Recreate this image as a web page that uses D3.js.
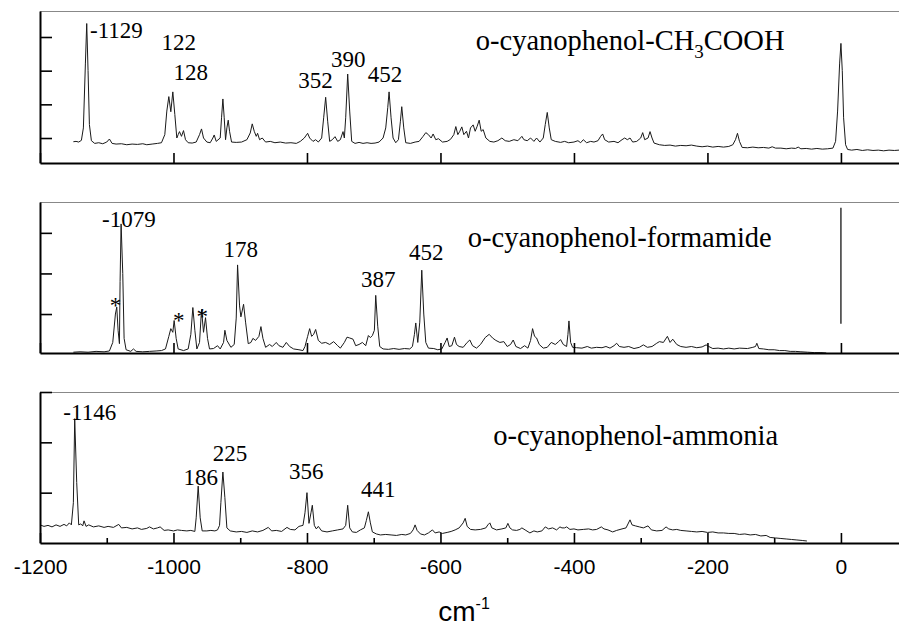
<!DOCTYPE html>
<html>
<head>
<meta charset="utf-8">
<script src="https://cdn.jsdelivr.net/npm/d3@7"></script>
<style>
body { margin: 0; background: #fff; }
</style>
</head>
<body>
<div id="chart"></div>
<script>
var fw = 899;
var fh = 626;
var serif = "'Liberation Serif', 'Times New Roman', serif";
var sans = "'Liberation Sans', Arial, sans-serif";

// x ticks (cm-1)
var xMajor = [-1200, -1000, -800, -600, -400, -200, 0];
var xMinor = [-1100, -900, -700, -500, -300, -100];

// y ticks per panel (arbitrary intensity)
var yTicks1 = [1, 2, 3, 4];
var yTicks2 = [1, 2, 3];
var yTicks3 = [1, 2, 3];

// o-cyanophenol-CH3COOH  [shift, intensity]
var specAcid = [[-1150,0.89],[-1146,0.90],[-1142,0.88],[-1138,0.93],[-1135,1.3],[-1132,3.2],[-1130,4.40],[-1128,3.0],[-1126,1.4],[-1123,0.92],[-1118,0.84],[-1112,0.86],[-1106,0.83],[-1100,0.88],[-1096,0.97],[-1092,0.84],[-1086,0.82],[-1078,0.83],[-1070,0.80],[-1062,0.82],[-1054,0.81],[-1046,0.83],[-1040,0.80],[-1032,0.82],[-1024,0.84],[-1018,0.86],[-1013,1.1],[-1010,1.8],[-1007,2.23],[-1004,1.78],[-1001,2.37],[-998,1.7],[-995,1.0],[-993,1.1],[-991,1.19],[-988,1.05],[-985,1.22],[-982,0.95],[-978,0.86],[-972,0.85],[-966,0.88],[-961,1.1],[-958,1.27],[-955,1.0],[-950,0.88],[-945,0.86],[-941,1.0],[-939,1.09],[-936,0.9],[-930,1.0],[-928,1.6],[-926,2.16],[-924,1.6],[-922,0.95],[-920,1.3],[-918,1.53],[-916,1.2],[-913,0.88],[-906,0.87],[-898,0.88],[-890,0.95],[-885,1.15],[-882,1.42],[-879,1.2],[-876,1.05],[-874,1.14],[-871,0.95],[-867,1.0],[-862,0.88],[-855,0.9],[-848,0.86],[-840,0.88],[-832,0.85],[-824,0.86],[-816,0.84],[-810,0.90],[-804,1.0],[-799,1.14],[-796,1.0],[-791,0.90],[-787,0.95],[-783,0.88],[-778,1.0],[-775,1.6],[-772,2.21],[-769,1.5],[-766,0.90],[-762,0.95],[-758,1.04],[-754,0.90],[-750,0.95],[-746,1.19],[-744,1.0],[-742,1.6],[-739,2.90],[-736,1.8],[-733,0.90],[-728,0.84],[-722,0.87],[-716,0.84],[-710,0.86],[-704,0.84],[-698,0.85],[-692,0.88],[-686,1.0],[-682,1.3],[-679,1.9],[-677,2.37],[-674,1.6],[-671,1.0],[-667,0.86],[-663,0.95],[-660,1.5],[-658,1.93],[-655,1.3],[-652,0.86],[-645,0.84],[-638,0.88],[-632,0.90],[-626,1.05],[-622,1.16],[-618,1.1],[-614,1.0],[-611,1.12],[-607,0.95],[-603,0.98],[-597,0.88],[-590,0.90],[-585,0.96],[-580,1.1],[-577,1.34],[-574,1.1],[-571,1.2],[-568,1.33],[-565,1.1],[-561,1.2],[-558,1.0],[-555,1.3],[-551,1.39],[-548,1.2],[-545,1.35],[-542,1.53],[-539,1.2],[-536,1.25],[-532,1.0],[-526,0.90],[-520,0.88],[-514,0.92],[-508,1.0],[-503,0.92],[-497,0.90],[-490,0.95],[-484,0.92],[-478,1.05],[-475,0.95],[-470,0.92],[-465,1.0],[-460,0.90],[-456,1.0],[-451,0.88],[-446,1.0],[-443,1.4],[-440,1.76],[-437,1.3],[-434,0.95],[-428,0.90],[-420,0.87],[-414,0.90],[-408,0.86],[-400,0.88],[-394,0.92],[-390,0.86],[-386,0.95],[-381,0.86],[-375,0.90],[-370,0.88],[-364,0.92],[-360,1.05],[-357,1.12],[-354,0.95],[-348,0.88],[-340,0.90],[-334,0.86],[-328,0.95],[-324,1.0],[-320,0.95],[-316,1.0],[-312,0.88],[-306,0.90],[-300,1.0],[-297,1.16],[-294,0.95],[-289,1.0],[-286,1.19],[-283,1.0],[-280,0.85],[-272,0.80],[-264,0.78],[-256,0.79],[-248,0.76],[-240,0.78],[-232,0.77],[-224,0.79],[-216,0.76],[-208,0.74],[-200,0.76],[-192,0.73],[-184,0.75],[-176,0.73],[-168,0.75],[-162,0.80],[-158,0.95],[-155,1.14],[-152,0.90],[-148,0.72],[-140,0.71],[-132,0.73],[-124,0.71],[-116,0.72],[-108,0.70],[-103,0.74],[-98,0.70],[-90,0.70],[-82,0.68],[-74,0.70],[-68,0.69],[-64,0.73],[-60,0.68],[-52,0.69],[-44,0.67],[-36,0.69],[-28,0.67],[-20,0.68],[-12,0.70],[-8,0.9],[-5,1.8],[-2,3.2],[0,3.81],[2,3.0],[4,1.6],[7,0.8],[10,0.66],[16,0.64],[24,0.66],[32,0.63],[40,0.65],[48,0.63],[56,0.64],[64,0.62],[72,0.64],[80,0.63],[87,0.64]];

// o-cyanophenol-formamide
var specForm = [[-1150,0.06],[-1140,0.07],[-1128,0.06],[-1116,0.08],[-1104,0.07],[-1096,0.09],[-1091,0.3],[-1087,1.0],[-1085,1.17],[-1083,0.6],[-1081,0.27],[-1080,1.8],[-1078.5,3.22],[-1076,2.0],[-1074,0.4],[-1071,0.12],[-1064,0.08],[-1060,0.14],[-1056,0.08],[-1046,0.07],[-1036,0.08],[-1026,0.09],[-1018,0.10],[-1012,0.14],[-1007,0.45],[-1004,0.64],[-1001,0.55],[-999,0.84],[-996,0.4],[-993,0.14],[-985,0.10],[-978,0.14],[-974,0.5],[-971,1.16],[-968,0.6],[-965,0.14],[-961,0.3],[-958,1.11],[-955,0.55],[-952,0.91],[-949,0.4],[-946,0.14],[-940,0.15],[-934,0.22],[-930,0.14],[-925,0.3],[-923,0.6],[-920,0.35],[-914,0.18],[-909,0.25],[-906,0.9],[-904,2.21],[-901,1.2],[-899,0.93],[-895,1.24],[-892,0.8],[-888,0.27],[-884,0.3],[-881,0.4],[-877,0.35],[-872,0.45],[-869,0.69],[-866,0.4],[-862,0.18],[-856,0.25],[-852,0.2],[-846,0.3],[-842,0.22],[-836,0.18],[-831,0.3],[-826,0.2],[-820,0.14],[-812,0.12],[-806,0.1],[-803,0.2],[-799,0.45],[-796,0.64],[-793,0.45],[-790,0.5],[-787,0.62],[-783,0.35],[-778,0.28],[-772,0.3],[-766,0.25],[-760,0.32],[-754,0.22],[-750,0.16],[-744,0.3],[-740,0.43],[-736,0.41],[-731,0.38],[-727,0.22],[-722,0.25],[-717,0.3],[-712,0.22],[-708,0.47],[-705,0.42],[-702,0.47],[-699,0.6],[-697,1.46],[-694,0.7],[-691,0.2],[-686,0.14],[-678,0.13],[-670,0.15],[-662,0.13],[-654,0.15],[-646,0.14],[-642,0.2],[-639,0.5],[-637,0.78],[-634,0.3],[-631,0.8],[-628,2.08],[-625,1.0],[-622,0.3],[-618,0.16],[-610,0.15],[-604,0.12],[-598,0.14],[-593,0.3],[-590,0.41],[-587,0.2],[-583,0.22],[-579,0.43],[-576,0.25],[-572,0.2],[-566,0.18],[-560,0.3],[-556,0.36],[-552,0.22],[-546,0.16],[-540,0.25],[-533,0.42],[-527,0.5],[-522,0.41],[-517,0.35],[-511,0.3],[-505,0.32],[-500,0.2],[-495,0.25],[-491,0.36],[-487,0.2],[-480,0.15],[-474,0.22],[-469,0.16],[-465,0.35],[-462,0.64],[-459,0.45],[-456,0.41],[-452,0.25],[-446,0.16],[-440,0.18],[-434,0.3],[-428,0.25],[-423,0.32],[-420,0.37],[-416,0.25],[-411,0.2],[-409,0.5],[-407.5,0.83],[-405,0.3],[-402,0.18],[-396,0.17],[-388,0.16],[-380,0.2],[-374,0.16],[-366,0.18],[-358,0.17],[-352,0.2],[-346,0.16],[-340,0.22],[-336,0.28],[-332,0.2],[-325,0.18],[-318,0.2],[-310,0.15],[-302,0.18],[-296,0.24],[-290,0.18],[-283,0.2],[-276,0.28],[-272,0.32],[-266,0.3],[-260,0.45],[-256,0.3],[-252,0.38],[-246,0.25],[-240,0.2],[-232,0.18],[-224,0.2],[-216,0.17],[-208,0.19],[-202,0.24],[-198,0.2],[-192,0.15],[-184,0.16],[-176,0.14],[-168,0.16],[-160,0.14],[-152,0.16],[-140,0.15],[-132,0.18],[-128,0.2],[-126,0.28],[-123,0.15],[-116,0.14],[-108,0.12],[-100,0.12],[-92,0.1],[-84,0.1],[-76,0.08],[-68,0.08],[-60,0.07],[-50,0.06],[-40,0.05],[-30,0.05],[-22,0.04]];

// cut Rayleigh line at 0 in formamide panel
var formLine = [[0, 3.62], [0, 0.76]];

// o-cyanophenol-ammonia
var specAmm = [[-1200,0.36],[-1194,0.33],[-1188,0.35],[-1182,0.32],[-1176,0.36],[-1170,0.33],[-1164,0.37],[-1160,0.34],[-1156,0.40],[-1153,0.36],[-1150,0.8],[-1148,2.47],[-1145,1.2],[-1142,0.36],[-1139,0.38],[-1136,0.34],[-1134,0.44],[-1131,0.33],[-1127,0.36],[-1120,0.32],[-1112,0.34],[-1104,0.31],[-1098,0.33],[-1090,0.31],[-1082,0.37],[-1078,0.30],[-1070,0.31],[-1062,0.28],[-1054,0.30],[-1048,0.27],[-1040,0.29],[-1036,0.32],[-1030,0.28],[-1024,0.30],[-1020,0.32],[-1014,0.25],[-1008,0.26],[-1000,0.24],[-994,0.26],[-988,0.25],[-980,0.24],[-974,0.25],[-968,0.23],[-966,0.5],[-963,1.13],[-960,0.5],[-957,0.24],[-950,0.24],[-944,0.25],[-938,0.24],[-934,0.26],[-931,0.35],[-929,0.8],[-926,1.41],[-923,0.9],[-920,0.3],[-915,0.24],[-906,0.22],[-898,0.23],[-890,0.21],[-882,0.24],[-874,0.22],[-866,0.25],[-858,0.31],[-853,0.24],[-846,0.25],[-838,0.23],[-830,0.31],[-825,0.27],[-818,0.26],[-812,0.33],[-806,0.35],[-803,0.6],[-800,1.0],[-797,0.39],[-794,0.6],[-792,0.75],[-789,0.35],[-786,0.28],[-783,0.33],[-778,0.24],[-770,0.22],[-762,0.24],[-754,0.26],[-746,0.28],[-742,0.35],[-739,0.75],[-736,0.3],[-732,0.22],[-726,0.21],[-720,0.26],[-714,0.30],[-711,0.45],[-708,0.62],[-705,0.4],[-702,0.22],[-696,0.18],[-690,0.16],[-682,0.17],[-674,0.16],[-666,0.15],[-658,0.17],[-652,0.16],[-645,0.19],[-641,0.26],[-638,0.36],[-635,0.25],[-630,0.18],[-624,0.16],[-618,0.2],[-612,0.26],[-608,0.2],[-602,0.22],[-597,0.19],[-590,0.21],[-584,0.23],[-578,0.26],[-572,0.3],[-566,0.4],[-563,0.49],[-560,0.33],[-555,0.27],[-548,0.26],[-540,0.27],[-532,0.30],[-529,0.36],[-526,0.40],[-523,0.3],[-516,0.26],[-508,0.28],[-502,0.3],[-499,0.39],[-496,0.3],[-492,0.26],[-486,0.25],[-481,0.27],[-478,0.3],[-472,0.25],[-466,0.2],[-460,0.24],[-455,0.22],[-448,0.24],[-443,0.32],[-438,0.28],[-432,0.3],[-426,0.26],[-421,0.32],[-418,0.30],[-414,0.3],[-411,0.32],[-406,0.27],[-400,0.28],[-394,0.26],[-386,0.27],[-378,0.28],[-372,0.26],[-366,0.27],[-359,0.32],[-355,0.28],[-349,0.26],[-342,0.22],[-336,0.25],[-328,0.28],[-322,0.3],[-316,0.46],[-313,0.36],[-308,0.34],[-302,0.32],[-296,0.3],[-289,0.34],[-284,0.26],[-276,0.24],[-268,0.25],[-262,0.32],[-258,0.28],[-252,0.26],[-246,0.27],[-240,0.25],[-232,0.24],[-224,0.23],[-216,0.22],[-208,0.23],[-200,0.21],[-192,0.22],[-184,0.20],[-176,0.20],[-168,0.19],[-160,0.19],[-152,0.17],[-144,0.18],[-136,0.16],[-128,0.17],[-120,0.14],[-112,0.15],[-106,0.11],[-98,0.10],[-90,0.09],[-82,0.08],[-74,0.07],[-66,0.06],[-58,0.05],[-51,0.04]];

// peak labels: [text, shift, intensity]
var labAcid = [["-1129", -1125, 3.97], ["122", -1018, 3.61], ["128", -1000, 2.72], ["352", -813, 2.48], ["390", -764, 3.11], ["452", -709, 2.66]];
var labForm = [["-1079", -1107, 3.15], ["178", -925, 2.41], ["387", -719, 1.66], ["452", -647, 2.33]];
var starForm = [[-1087, 1.03], [-992, 0.66], [-957, 0.76]];
var labAmm = [["-1146", -1165, 2.44], ["186", -985, 1.15], ["225", -941, 1.62], ["356", -827, 1.27], ["441", -719, 0.91]];

var svg = d3.select("#chart")
	.append("svg")
	.attr("width", fw)
	.attr("height", fh);

var x = d3.scaleLinear()
	.domain([-1200, 87])
	.range([40, fw]);

function panel(top, bottom, dom, yt, spec, labs, titleParts, tPos, last) {
	var y = d3.scaleLinear().domain(dom).range([bottom, top]);
	var g = svg.append("g");

	// top frame line
	g.append("line")
		.attr("x1", x.range()[0]).attr("x2", x.range()[1])
		.attr("y1", top + 0.5).attr("y2", top + 0.5)
		.attr("stroke", "#888").attr("stroke-width", 1);

	var ln = d3.line()
		.x(function(d) { return x(d[0]); })
		.y(function(d) { return y(d[1]); });

	g.append("path")
		.datum(spec)
		.attr("d", ln)
		.attr("fill", "none")
		.attr("stroke", "#1a1a1a")
		.attr("stroke-width", 1)
		.attr("stroke-linejoin", "round");

	// x axis, ticks pointing up
	var xa = g.append("g")
		.attr("transform", "translate(0," + bottom + ")")
		.call(d3.axisBottom(x)
			.tickValues(xMajor)
			.tickSizeInner(-10)
			.tickSizeOuter(0)
			.tickPadding(16)
			.tickFormat(function(d) { return last ? String(d) : ""; }));
	xa.selectAll("text")
		.style("font-family", sans)
		.style("font-size", "21px")
		.attr("fill", "#000");
	xa.select(".domain").attr("stroke-width", 2);
	xa.selectAll(".tick line").attr("stroke-width", 1.6);

	if (last) {
		var mi = g.append("g")
			.attr("transform", "translate(0," + bottom + ")")
			.call(d3.axisBottom(x)
				.tickValues(xMinor)
				.tickSizeInner(-5)
				.tickSizeOuter(0)
				.tickFormat(""));
		mi.select(".domain").remove();
		mi.selectAll("line").attr("stroke-width", 1.6);
	}

	// y axis (ticks inward, no labels)
	var ya = g.append("g")
		.attr("transform", "translate(" + x.range()[0] + ",0)")
		.call(d3.axisRight(y)
			.tickValues(yt)
			.tickSizeInner(12)
			.tickSizeOuter(0)
			.tickFormat(""));
	ya.select(".domain").attr("stroke-width", 2);
	ya.selectAll(".tick line").attr("stroke-width", 1.6);

	g.selectAll(".ann")
		.data(labs)
		.enter()
		.append("text")
		.attr("class", "ann")
		.attr("x", function(d) { return x(d[1]); })
		.attr("y", function(d) { return y(d[2]); })
		.style("font-family", serif)
		.style("font-size", "23px")
		.text(function(d) { return d[0]; });

	var t = g.append("text")
		.attr("x", x(tPos[0]))
		.attr("y", y(tPos[1]))
		.style("font-family", serif);
	titleParts.forEach(function(p) {
		t.append("tspan")
			.attr("dy", p[1])
			.style("font-size", p[2] + "px")
			.text(p[0]);
	});

	return { g: g, y: y };
}

var p1 = panel(11, 163, [0.258, 4.772], yTicks1, specAcid, labAcid,
	[["o-cyanophenol-CH", 0, 28.5], ["3", 8, 19], ["COOH", -8, 28.5]], [-547, 3.61], false);

var p2 = panel(202, 353, [0.04, 3.76], yTicks2, specForm, labForm,
	[["o-cyanophenol-formamide", 0, 28.5]], [-559, 2.66], false);

p2.g.append("path")
	.datum(formLine)
	.attr("d", d3.line().x(function(d) { return x(d[0]); }).y(function(d) { return p2.y(d[1]); }))
	.attr("stroke", "#000")
	.attr("stroke-width", 1.2);

p2.g.selectAll(".star")
	.data(starForm)
	.enter()
	.append("text")
	.attr("class", "star")
	.attr("text-anchor", "middle")
	.attr("x", function(d) { return x(d[0]); })
	.attr("y", function(d) { return p2.y(d[1]); })
	.style("font-family", serif)
	.style("font-size", "23px")
	.text("*");

var p3 = panel(392, 543, [0, 3], yTicks3, specAmm, labAmm,
	[["o-cyanophenol-ammonia", 0, 28.5]], [-521, 1.94], true);

// x axis title
var xl = svg.append("text")
	.attr("x", 464)
	.attr("y", 621)
	.attr("text-anchor", "middle")
	.style("font-family", sans)
	.style("font-size", "28px");
xl.append("tspan").text("cm");
xl.append("tspan").attr("dy", -12).style("font-size", "16px").text("-1");
</script>
</body>
</html>
